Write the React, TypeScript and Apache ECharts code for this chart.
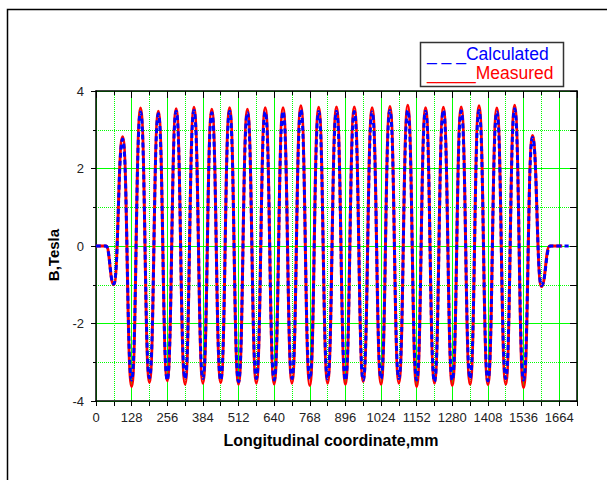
import { useEffect, useRef } from 'react';
import * as echarts from 'echarts';

// x positions (mm) of the alternating dips and peaks
const extremaX = [
  64, 96, 128, 160, 192, 224, 256, 288, 320, 352, 384, 416, 448, 480, 512, 544,
  576, 608, 640, 672, 704, 736, 768, 800, 832, 864, 896, 928, 960, 992, 1024,
  1056, 1088, 1120, 1152, 1184, 1216, 1248, 1280, 1312, 1344, 1376, 1408, 1440,
  1472, 1504, 1536, 1568, 1600,
];

// Measured field (Tesla) at each extremum
const measuredExtrema = [
  -1.0, 2.82, -3.63, 3.56, -3.52, 3.48, -3.48, 3.54, -3.57, 3.58, -3.54, 3.53,
  -3.53, 3.57, -3.57, 3.53, -3.54, 3.57, -3.56, 3.57, -3.54, 3.62, -3.6, 3.58,
  -3.54, 3.59, -3.57, 3.59, -3.5, 3.57, -3.57, 3.6, -3.54, 3.63, -3.63, 3.57,
  -3.54, 3.58, -3.6, 3.59, -3.57, 3.62, -3.58, 3.56, -3.57, 3.63, -3.66, 2.85,
  -1.05,
];

// Calculated field (Tesla) at each extremum
const calculatedExtrema = [
  -0.98, 2.76, -3.46, 3.46, -3.4, 3.41, -3.46, 3.48, -3.42, 3.5, -3.42, 3.44,
  -3.46, 3.48, -3.5, 3.44, -3.42, 3.46, -3.46, 3.47, -3.42, 3.52, -3.43, 3.47,
  -3.43, 3.48, -3.46, 3.47, -3.46, 3.46, -3.42, 3.5, -3.42, 3.5, -3.46, 3.48,
  -3.5, 3.5, -3.46, 3.49, -3.42, 3.5, -3.48, 3.46, -3.42, 3.54, -3.46, 2.8,
  -1.02,
];

// flat parts before and after the undulator field
const measuredLeadIn = [[0, 0], [36, 0]];
const measuredTail = [[1630, 0], [1675, 0]];
const calculatedLeadIn = [[0, 0], [36, 0]];
const calculatedTail = [[1632, 0], [1698, 0]];

const legendCalculated = '_ _ _Calculated';
const legendMeasured = '_____Measured';
const xTitle = 'Longitudinal coordinate,mm';
const yTitle = 'B,Tesla';

const FONT = '"Liberation Sans", Arial, Helvetica, sans-serif';

export default function App() {
  const ref = useRef<HTMLDivElement>(null);

  useEffect(() => {
    if (!ref.current) return;
    const chart = echarts.init(ref.current, undefined, { renderer: 'svg' });

    const measuredData = [
      ...measuredLeadIn,
      ...extremaX.map((x, i) => [x, measuredExtrema[i]]),
      ...measuredTail,
    ];
    const calculatedData = [
      ...calculatedLeadIn,
      ...extremaX.map((x, i) => [x, calculatedExtrema[i]]),
      ...calculatedTail,
    ];

    const black = { color: '#000', width: 1.5 };
    const tickStyle = { color: '#000', width: 1 };

    chart.setOption({
      animation: false,
      backgroundColor: '#fff',
      grid: { left: 96, top: 91, width: 481, height: 310 },
      xAxis: [
        {
          type: 'value', position: 'bottom', min: 0, max: 1728, interval: 128, z: 3,
          axisLine: { show: true, onZero: false, lineStyle: black },
          axisTick: { show: true, inside: false, length: 5, lineStyle: tickStyle },
          axisLabel: {
            show: true, margin: 10, fontSize: 13, color: '#222', fontFamily: FONT,
            formatter: (v: number) => (v === 1728 ? '' : String(v)),
          },
          splitLine: { show: true, lineStyle: { color: '#00ff00', width: 1 } },
        },
        {
          type: 'value', position: 'bottom', min: 0, max: 1728, interval: 64, z: 1,
          axisLine: { show: false, onZero: false },
          axisTick: { show: true, inside: false, length: 5, lineStyle: tickStyle },
          axisLabel: { show: false },
          splitLine: { show: true, lineStyle: { color: '#00ff00', width: 1, type: [1, 1] } },
        },
        {
          type: 'value', position: 'top', min: 0, max: 1728, interval: 64, z: 3,
          axisLine: { show: true, onZero: false, lineStyle: black },
          axisTick: { show: true, inside: true, length: 4, lineStyle: tickStyle },
          axisLabel: { show: false },
          splitLine: { show: false },
        },
        {
          type: 'value', position: 'top', min: 0, max: 1728, interval: 128, z: 3,
          axisLine: { show: false, onZero: false },
          axisTick: { show: true, inside: true, length: 7, lineStyle: tickStyle },
          axisLabel: { show: false },
          splitLine: { show: false },
        },
      ],
      yAxis: [
        {
          type: 'value', position: 'left', min: -4, max: 4, interval: 2, z: 3,
          axisLine: { show: true, onZero: false, lineStyle: black },
          axisTick: { show: true, inside: false, length: 5, lineStyle: tickStyle },
          axisLabel: { show: true, margin: 12, fontSize: 13, color: '#222', fontFamily: FONT },
          splitLine: { show: true, lineStyle: { color: '#00ff00', width: 1 } },
        },
        {
          type: 'value', position: 'left', min: -4, max: 4, interval: 1, z: 1,
          axisLine: { show: false, onZero: false },
          axisTick: { show: true, inside: false, length: 3, lineStyle: tickStyle },
          axisLabel: { show: false },
          splitLine: { show: true, lineStyle: { color: '#00ff00', width: 1, type: [1, 1] } },
        },
        {
          type: 'value', position: 'right', min: -4, max: 4, interval: 1, z: 3,
          axisLine: { show: true, onZero: false, lineStyle: black },
          axisTick: { show: true, inside: true, length: 7, lineStyle: tickStyle },
          axisLabel: { show: false },
          splitLine: { show: false },
        },
      ],
      series: [
        {
          type: 'line', name: 'Measured', xAxisIndex: 0, yAxisIndex: 0,
          data: measuredData, showSymbol: false, smooth: 0.5, smoothMonotone: 'x',
          lineStyle: { color: '#ff0000', width: 3 }, z: 5,
        },
        {
          type: 'line', name: 'Calculated', xAxisIndex: 0, yAxisIndex: 0,
          data: calculatedData, showSymbol: false, smooth: 0.5, smoothMonotone: 'x',
          lineStyle: { color: '#0000ff', width: 3, type: [5, 3] }, z: 6,
        },
      ],
      graphic: [
        {
          type: 'rect', silent: true, z: 0,
          shape: { x: 7.5, y: 9.5, width: 700, height: 600 },
          style: { fill: 'none', stroke: '#000', lineWidth: 1.5 },
        },
        {
          type: 'rect', silent: true, z: 10,
          shape: { x: 420.5, y: 42.5, width: 143, height: 44 },
          style: { fill: '#fff', stroke: '#333', lineWidth: 1.5 },
        },
        {
          type: 'text', silent: true, z: 11, x: 427, y: 54,
          style: {
            text: legendCalculated, fill: '#0000ff', fontSize: 17.5, fontFamily: FONT,
            align: 'left', verticalAlign: 'middle', textAlign: 'left', textVerticalAlign: 'middle',
          },
        },
        {
          type: 'text', silent: true, z: 11, x: 427, y: 73,
          style: {
            text: legendMeasured, fill: '#ff0000', fontSize: 17.5, fontFamily: FONT,
            align: 'left', verticalAlign: 'middle', textAlign: 'left', textVerticalAlign: 'middle',
          },
        },
        {
          type: 'text', silent: true, z: 11, x: 331, y: 440,
          style: {
            text: xTitle, fill: '#000', fontSize: 16, fontWeight: 'bold', fontFamily: FONT,
            align: 'center', verticalAlign: 'middle', textAlign: 'center', textVerticalAlign: 'middle',
          },
        },
        {
          type: 'text', silent: true, z: 11, x: 53, y: 255, rotation: Math.PI / 2,
          style: {
            text: yTitle, fill: '#000', fontSize: 15, fontWeight: 'bold', fontFamily: FONT,
            align: 'center', verticalAlign: 'middle', textAlign: 'center', textVerticalAlign: 'middle',
          },
        },
      ],
    });

    return () => chart.dispose();
  }, []);

  return (
    <div
      ref={ref}
      style={{ position: 'fixed', left: 0, top: 0, width: 607, height: 480, background: '#fff' }}
    />
  );
}
